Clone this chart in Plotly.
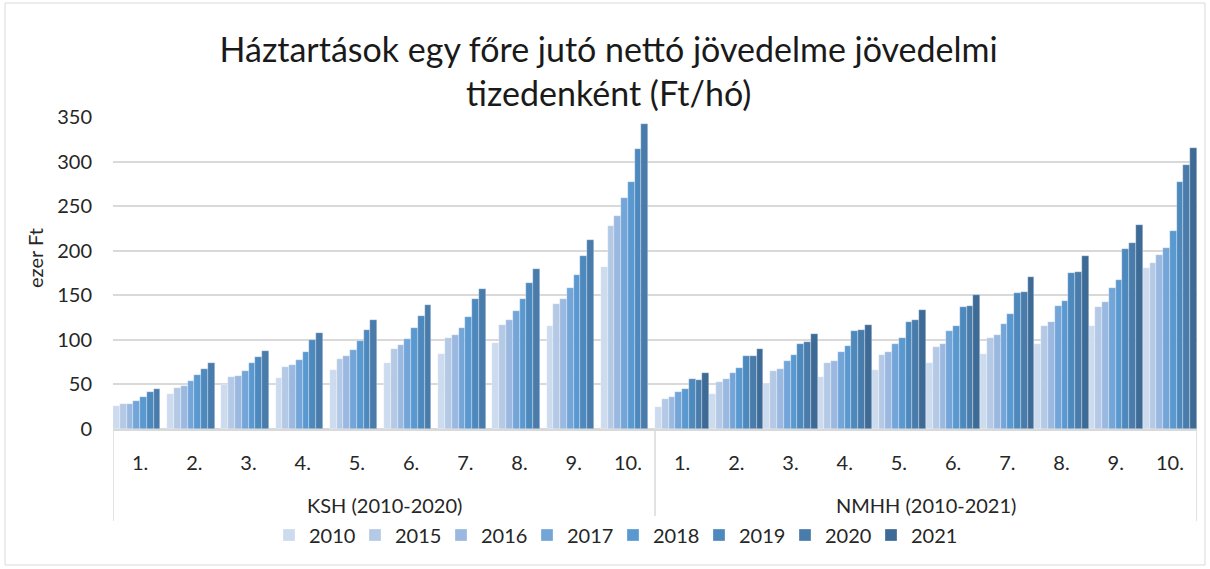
import plotly.graph_objects as go

groups = ["KSH (2010-2020)", "NMHH (2010-2021)"]
deciles = ["1.", "2.", "3.", "4.", "5.", "6.", "7.", "8.", "9.", "10."]
years = ["2010", "2015", "2016", "2017", "2018", "2019", "2020", "2021"]

ksh = {
    "2010": [25.3, 39, 49.2, 57.4, 66, 73.6, 83.7, 96.4, 115.2, 181.8],
    "2015": [28, 45.8, 58.2, 69, 78.6, 89.7, 101.7, 116.7, 139.9, 227.9],
    "2016": [28.3, 48, 60, 72, 82.3, 93.8, 105.4, 122.3, 145.9, 239.1],
    "2017": [31.7, 54, 65.6, 77.5, 88.7, 101, 113.3, 132.4, 158.2, 259],
    "2018": [35.8, 60.7, 74.2, 86.8, 98.8, 113, 125.7, 145.5, 173.2, 277.3],
    "2019": [41.4, 67, 80.5, 99.5, 110.7, 126.8, 145.9, 163.9, 194.2, 313.7],
    "2020": [45, 73.8, 88, 108, 121.9, 138.8, 156.7, 179.6, 211.8, 342.5],
    "2021": [None] * 10,
}
nmhh = {
    "2010": [24.2, 39.5, 50.4, 58.6, 66.1, 74.2, 84.3, 94.8, 115.4, 180.9],
    "2015": [33.9, 53, 65.4, 74, 82.6, 92.5, 102.6, 115, 136.7, 186.5],
    "2016": [36.1, 56, 67.2, 76.6, 86, 94.8, 105.2, 119.5, 142.3, 195.1],
    "2017": [41.4, 62.4, 75.8, 86, 95.3, 110.1, 118, 138.2, 157.7, 203],
    "2018": [44.4, 68, 82.6, 92.7, 102.1, 115.4, 128.5, 143.1, 167.4, 221.7],
    "2019": [56.4, 81.8, 95.3, 109.6, 120.4, 137.1, 152.4, 175.3, 201.5, 276.8],
    "2020": [54.9, 81.8, 97.9, 111.4, 122.3, 138.2, 153.2, 176, 208.6, 296.6],
    "2021": [63.1, 89.7, 106.9, 117, 133.5, 149.8, 170, 193.6, 228.8, 315.4],
}
colors = ["#CDDBEF", "#B4C9E6", "#9BB9E0", "#73A5D9", "#5A98D0", "#4E89BE", "#4A7CAB", "#3E6B96"]

n = len(deciles)
xpos = list(range(2 * n))
ticktext = deciles + deciles

fig = go.Figure()
for yr, col in zip(years, colors):
    fig.add_trace(go.Bar(
        x=xpos, y=ksh[yr] + nmhh[yr], name=yr,
        marker=dict(color=col, line=dict(color="rgba(255,255,255,0.6)", width=0.5)),
    ))

W, H = 1210, 569
ML, MR, MT, MB = 113, 13, 117, 140
PW, PH = W - ML - MR, H - MT - MB

def px_x(px):
    return (px - ML) / PW

def px_y(py):
    return (H - MB - py) / PH

fig.update_layout(
    width=W, height=H,
    barmode="group", bargap=0, bargroupgap=0,
    plot_bgcolor="white", paper_bgcolor="white",
    font=dict(family="Lato, 'Open Sans', sans-serif", color="#262626", size=20),
    margin=dict(l=ML, r=MR, t=MT, b=MB),
    title=dict(
        text="Háztartások egy főre jutó nettó jövedelme jövedelmi<br>tizedenként (Ft/hó)",
        x=0.503, xanchor="center", y=1 - 62 / H, yanchor="middle",
        font=dict(size=34, color="#1a1a1a"),
    ),
    legend=dict(orientation="h", x=px_x(613), xanchor="center", y=px_y(535), yanchor="middle",
                font=dict(size=20), traceorder="normal", itemwidth=30,
                entrywidth=41, entrywidthmode="pixels"),
    showlegend=True,
)
fig.update_yaxes(
    range=[0, 350], dtick=50, showgrid=True, gridcolor="#D9D9D9", gridwidth=1.5,
    zeroline=True, zerolinecolor="#D9D9D9", zerolinewidth=1.5,
    ticks="outside", ticklen=16, tickcolor="rgba(0,0,0,0)",
    tickfont=dict(size=20), showline=False,
)
fig.update_xaxes(
    range=[-0.5, 2 * n - 0.5], tickvals=xpos, ticktext=ticktext,
    showline=True, linecolor="#D9D9D9", linewidth=1.5,
    ticks="outside", ticklen=15, tickcolor="rgba(0,0,0,0)",
    tickfont=dict(size=20), showgrid=False, zeroline=False,
)
# y-axis title
fig.add_annotation(text="ezer Ft", textangle=-90, xref="paper", yref="paper",
                   x=px_x(35), y=px_y(258), showarrow=False, font=dict(size=20),
                   xanchor="center", yanchor="middle")
# group labels
for i, g in enumerate(groups):
    fig.add_annotation(text=g, xref="x", yref="paper", x=i * n + (n - 1) / 2, y=px_y(505),
                       showarrow=False, font=dict(size=20), xanchor="center", yanchor="middle")
# group dividers
for xd in [-0.5, n - 0.5, 2 * n - 0.5]:
    fig.add_shape(type="line", xref="x", yref="paper", x0=xd, x1=xd, y0=0, y1=px_y(521),
                  line=dict(color="#D9D9D9", width=1.5))
# outer chart border
fig.add_shape(type="rect", xref="paper", yref="paper",
              x0=px_x(5), x1=px_x(1205), y0=px_y(565), y1=px_y(3),
              line=dict(color="#D9D9D9", width=1), fillcolor="rgba(0,0,0,0)", layer="below")

fig.write_html("out.html", config={"displayModeBar": False},
               post_script="document.body.style.margin='0';")
